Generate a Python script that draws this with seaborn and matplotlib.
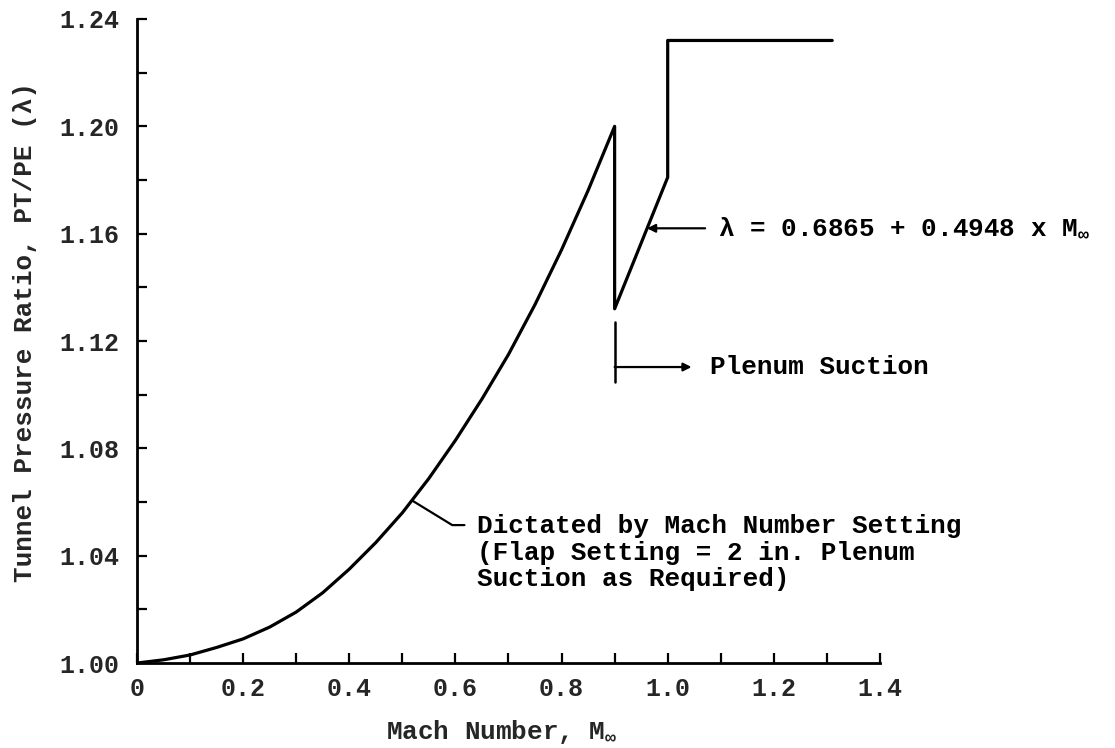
import pandas as pd
import matplotlib
matplotlib.use("Agg")
import matplotlib.pyplot as plt
from matplotlib.ticker import MultipleLocator
import seaborn as sns

# Subsonic branch: tunnel pressure ratio dictated by the Mach number setting
mach_sub = [0.00, 0.05, 0.10, 0.15, 0.20, 0.25, 0.30, 0.35, 0.40, 0.45,
            0.50, 0.55, 0.60, 0.65, 0.70, 0.75, 0.80, 0.85, 0.90]
ratio_sub = [1.0000, 1.0012, 1.0030, 1.0058, 1.0090, 1.0134, 1.0190, 1.0262, 1.0350, 1.0449,
             1.0560, 1.0688, 1.0830, 1.0984, 1.1150, 1.1336, 1.1540, 1.1761, 1.2000]

# Plenum suction branch (lambda = 0.6865 + 0.4948 M) and the supersonic plateau
mach_sup = [0.90, 1.00, 1.00, 1.31]
ratio_sup = [1.132, 1.181, 1.232, 1.232]

x_ticks = [0.0, 0.2, 0.4, 0.6, 0.8, 1.0, 1.2, 1.4]
x_tick_labels = ["0", "0.2", "0.4", "0.6", "0.8", "1.0", "1.2", "1.4"]
y_ticks = [1.00, 1.04, 1.08, 1.12, 1.16, 1.20, 1.24]
y_tick_labels = ["1.00", "1.04", "1.08", "1.12", "1.16", "1.20", "1.24"]

df = pd.DataFrame({
    "mach": mach_sub + mach_sup,
    "ratio": ratio_sub + ratio_sup,
})

sns.set_style("ticks")
plt.rcParams["font.family"] = ["Liberation Mono", "DejaVu Sans"]
plt.rcParams["font.weight"] = "bold"
plt.rcParams["axes.labelweight"] = "bold"
plt.rcParams["mathtext.fontset"] = "custom"
plt.rcParams["mathtext.rm"] = "Liberation Mono:bold"
plt.rcParams["mathtext.it"] = "Liberation Mono:bold"
plt.rcParams["mathtext.bf"] = "Liberation Mono:bold"
plt.rcParams["text.color"] = "black"

FS = 18.7
fig = plt.figure(figsize=(11.15, 7.48), dpi=100)
ax = fig.add_axes([0.1229, 0.1136, 0.6663, 0.8610])

sns.lineplot(data=df, x="mach", y="ratio", sort=False, estimator=None,
             color="black", linewidth=2.3, ax=ax)

ax.set_xlim(0, 1.4)
ax.set_ylim(1.00, 1.24)
ax.set_xticks(x_ticks)
ax.set_xticklabels(x_tick_labels)
ax.set_yticks(y_ticks)
ax.set_yticklabels(y_tick_labels)
ax.xaxis.set_minor_locator(MultipleLocator(0.1))
ax.yaxis.set_minor_locator(MultipleLocator(0.02))
ax.tick_params(which="both", direction="in", length=7.5, width=1.6, color="black")
ax.tick_params(axis="y", which="major", labelsize=18, pad=13)
ax.tick_params(axis="x", which="major", labelsize=18, pad=10)

sns.despine(ax=ax)
for side in ("left", "bottom"):
    ax.spines[side].set_linewidth(2.0)
    ax.spines[side].set_color("black")

ax.set_xlabel(r"Mach Number, $\mathbf{M}_{\infty}$", fontsize=FS)
ax.set_ylabel("Tunnel Pressure Ratio, PT/PE (λ)", fontsize=FS)
ax.xaxis.set_label_coords(0.491, -0.086)
ax.yaxis.set_label_coords(-0.1346, 0.514)

# Equation of the suction branch, pointing at the sloped segment
eq_y = 1.162
eq_x = (eq_y - 0.6865) / 0.4948
ax.annotate(r"λ = 0.6865 + 0.4948 x $\mathbf{M}_{\infty}$",
            xy=(eq_x, eq_y), xytext=(1.095, eq_y),
            ha="left", va="center", fontsize=FS, annotation_clip=False,
            arrowprops=dict(arrowstyle="-|>", color="black", lw=1.6,
                            mutation_scale=12, shrinkA=7, shrinkB=0))

# Plenum suction marker at the start of the suction branch
m_drop = mach_sup[0]
ax.plot([m_drop, m_drop], [1.1047, 1.1271], color="black", lw=1.8)
ps_y = 1.1103
ax.annotate("", xy=(1.045, ps_y), xytext=(m_drop, ps_y),
            arrowprops=dict(arrowstyle="-|>", color="black", lw=1.6,
                            mutation_scale=12, shrinkA=0, shrinkB=0))
ax.text(1.080, ps_y, "Plenum Suction", ha="left", va="center", fontsize=FS)

# Leader from the subsonic curve to its note
tip_m = 0.518
curve = pd.Series(ratio_sub, index=mach_sub)
tip_r = float(curve.reindex(sorted(set(mach_sub) | {tip_m}))
              .interpolate(method="index")[tip_m])
note_y = 1.0514
ax.plot([tip_m, 0.594, 0.617], [tip_r, note_y, note_y], color="black", lw=1.6)
ax.text(0.641, note_y + 0.0040,
        "Dictated by Mach Number Setting\n(Flap Setting = 2 in. Plenum\nSuction as Required)",
        ha="left", va="top", fontsize=FS, linespacing=1.12)

fig.savefig("out.png", dpi=100)
